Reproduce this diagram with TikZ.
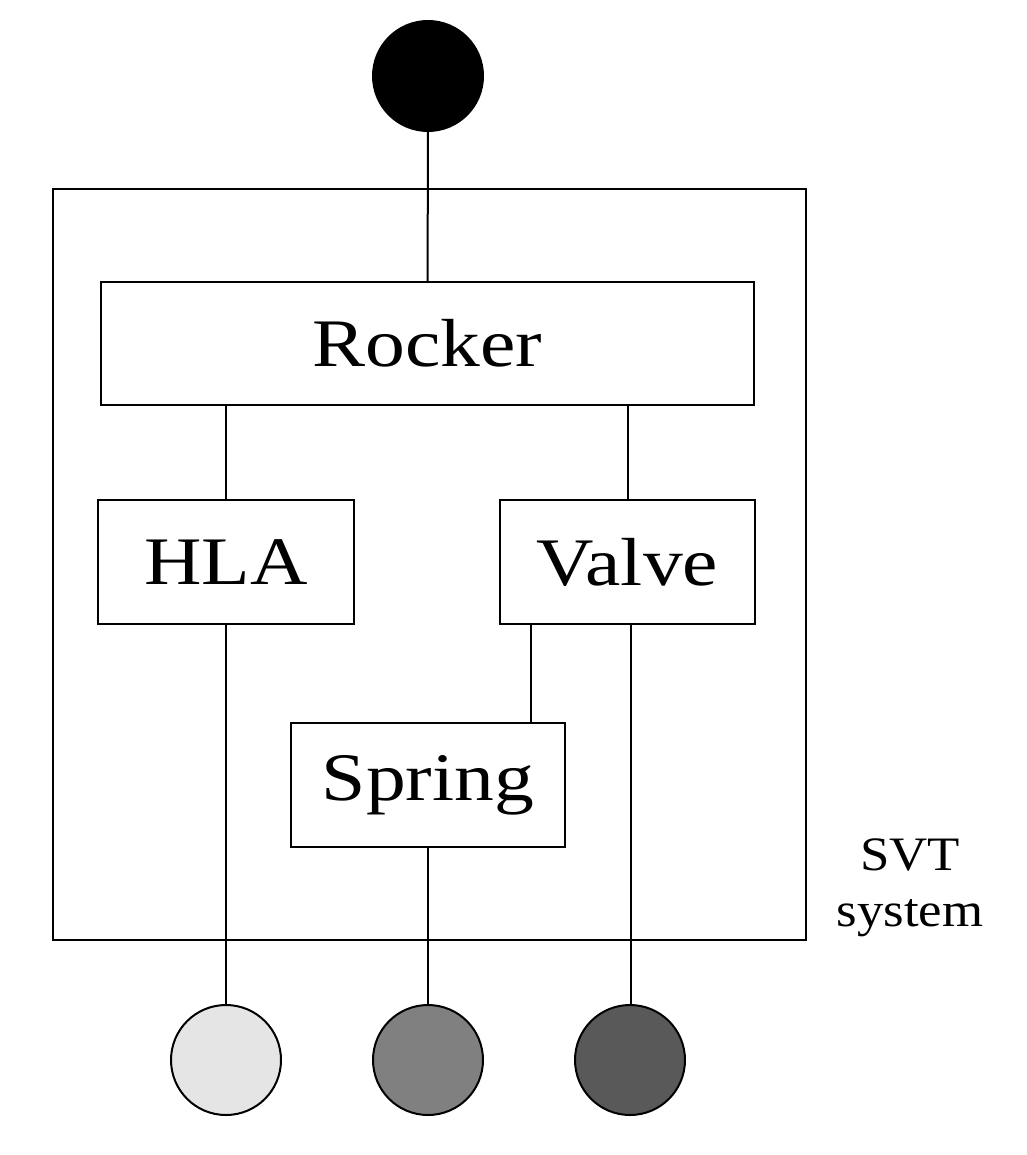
\documentclass[tikz,border=0pt]{standalone}
\usepackage{fontspec}
\setmainfont{Liberation Serif}
\begin{document}
\begin{tikzpicture}[x=1pt,y=-1pt,line width=2pt,
  box/.style={draw,rectangle,inner sep=0pt},
  lbl/.style={font=\fontsize{68}{70}\selectfont,xscale=1.17,inner sep=0pt},
  port/.style={draw,circle,minimum size=110pt,inner sep=0pt}]
\useasboundingbox (0,0) rectangle (1026,1155);
\node[port,fill=black] (top) at (428,76) {};
\draw (53,189) rectangle (806,940);
\node[box,minimum width=653pt,minimum height=123pt] (rocker) at (427.5,343.5) {};
\node[lbl] (trocker) at (rocker) {Rocker};
\node[box,minimum width=256pt,minimum height=124pt] (hla) at (226,562) {};
\node[lbl] (thla) at (hla) {HLA};
\node[box,minimum width=255pt,minimum height=124pt] (valve) at (627.5,562) {};
\node[lbl] (tvalve) at (valve) {Valve};
\node[box,minimum width=274pt,minimum height=124pt] (spring) at (428,785) {};
\node[lbl] (tspring) at (spring) {Spring};
\node[port,fill=black!10] (c1) at (226,1060) {};
\node[port,fill=black!50] (c2) at (428,1060) {};
\node[port,fill=black!65] (c3) at (630,1060) {};
\node[align=center,font=\fontsize{48}{56}\selectfont,xscale=1.1] (svt) at (910,888) {SVT\\system};
\draw (top) -- (rocker);
\draw (rocker.south -| hla) -- (hla);
\draw (rocker.south -| valve) -- (valve);
\draw (hla) -- (c1);
\draw (spring) -- (c2);
\draw ([xshift=3pt]valve.south) -- ([xshift=3pt]valve.south |- c3.north);
\draw ([xshift=-96.5pt]valve.south) -- ([xshift=-96.5pt]valve.south |- spring.north);
\end{tikzpicture}
\end{document}
